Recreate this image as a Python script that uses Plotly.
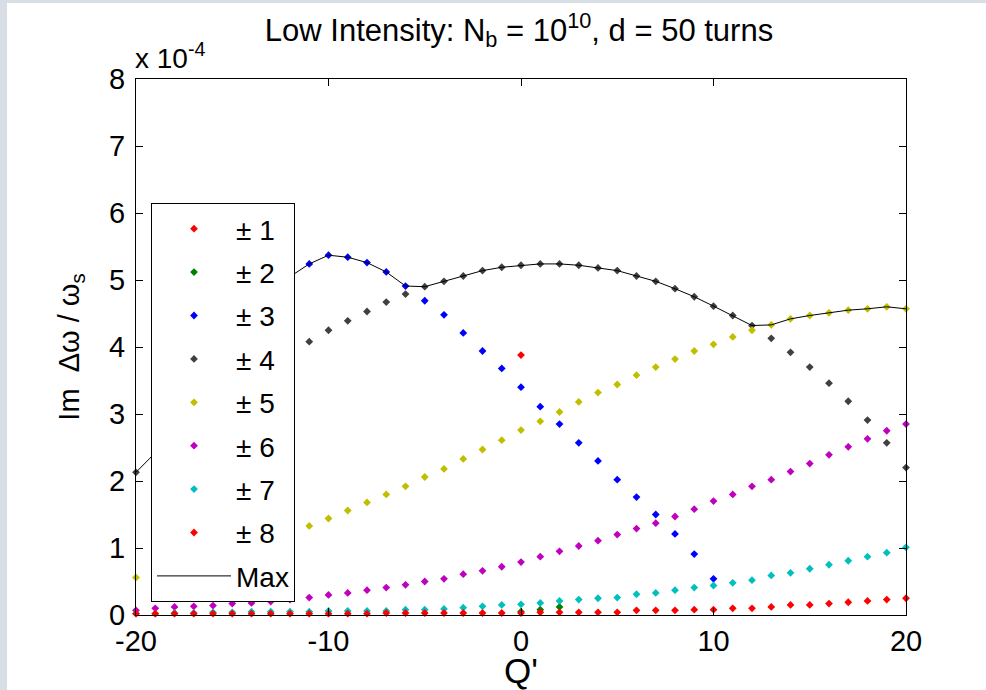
import plotly.graph_objects as go

Q = list(range(-20, 21))
N = None

# mode +-1 (only one significant point at Q'=0)
m1 = [N]*20 + [3.88] + [N]*20
# mode +-2 (only visible near Q'=0)
m2 = [N]*19 + [-0.02, 0.05, 0.08, 0.12, -0.02] + [N]*17
# mode +-3 (blue), defined from Q'=-19 up to Q'=10
m3 = [N, 2.20, 2.60, 3.00, 3.45, 3.90, 4.35, 4.75, 5.05, 5.24,
      5.37, 5.34, 5.26, 5.12, 4.91, 4.69, 4.48, 4.21, 3.94, 3.68,
      3.40, 3.11, 2.85, 2.57, 2.30, 2.02, 1.76, 1.50, 1.21, 0.91, 0.54]
# mode +-4 (dark grey)
m4 = [2.13, 2.42, 2.68, 2.92, 3.14, 3.35, 3.55, 3.73, 3.91, 4.08,
      4.25, 4.39, 4.53, 4.67, 4.79, 4.90, 4.98, 5.06, 5.14, 5.19,
      5.22, 5.24, 5.24, 5.22, 5.18, 5.14, 5.06, 4.98, 4.87, 4.75,
      4.61, 4.47, 4.32, 4.13, 3.92, 3.70, 3.46, 3.19, 2.91, 2.57, 2.20]
# mode +-5 (olive)
m5 = [0.56, 0.64, 0.72, 0.81, 0.90, 0.99, 1.08, 1.17, 1.25, 1.33,
      1.44, 1.56, 1.68, 1.80, 1.92, 2.06, 2.18, 2.33, 2.47, 2.61,
      2.76, 2.89, 3.03, 3.18, 3.32, 3.44, 3.58, 3.70, 3.82, 3.94,
      4.04, 4.15, 4.25, 4.33, 4.42, 4.47, 4.51, 4.55, 4.57, 4.60, 4.57]
# mode +-6 (magenta)
m6 = [0.07, 0.10, 0.12, 0.13, 0.14, 0.17, 0.18, 0.20, 0.23, 0.26,
      0.30, 0.33, 0.37, 0.41, 0.45, 0.50, 0.54, 0.61, 0.66, 0.72,
      0.79, 0.87, 0.95, 1.03, 1.11, 1.20, 1.29, 1.37, 1.47, 1.58,
      1.70, 1.80, 1.92, 2.02, 2.14, 2.26, 2.39, 2.51, 2.63, 2.75, 2.85]
# mode +-7 (cyan)
m7 = [0.02, 0.02, 0.03, 0.03, 0.04, 0.04, 0.05, 0.05, 0.05, 0.05,
      0.06, 0.06, 0.06, 0.06, 0.08, 0.08, 0.09, 0.11, 0.13, 0.15,
      0.16, 0.18, 0.21, 0.23, 0.25, 0.26, 0.31, 0.33, 0.37, 0.41,
      0.44, 0.48, 0.52, 0.59, 0.63, 0.69, 0.75, 0.81, 0.87, 0.93, 1.01]
# mode +-8 (red)
m8 = [0.02, 0.02, 0.02, 0.02, 0.02, 0.02, 0.02, 0.02, 0.02, 0.02,
      0.02, 0.02, 0.02, 0.03, 0.03, 0.03, 0.03, 0.03, 0.03, 0.03,
      0.03, 0.04, 0.04, 0.04, 0.04, 0.04, 0.07, 0.07, 0.07, 0.08,
      0.08, 0.10, 0.10, 0.12, 0.15, 0.15, 0.17, 0.19, 0.21, 0.23, 0.25]

series = [m1, m2, m3, m4, m5, m6, m7, m8]
names = ["± 1", "± 2", "± 3", "± 4", "± 5", "± 6", "± 7", "± 8"]
colors = ["#ff0000", "#008000", "#0000ff", "#404040",
          "#bfbf00", "#bf00bf", "#00bfbf", "#ff0000"]

# Max envelope across modes
mx = []
for i in range(len(Q)):
    vals = [s[i] for s in series if i < len(s) and s[i] is not None]
    mx.append(max(vals))

fig = go.Figure()
for k, (s, n, c) in enumerate(zip(series, names, colors)):
    fig.add_trace(go.Scatter(
        x=Q[:len(s)], y=[None if v is None else v * 1e-4 for v in s],
        mode="markers", name=n, legendgroup=f"g{k}",
        marker=dict(symbol="diamond", size=6, color=c),
        cliponaxis=False))
fig.add_trace(go.Scatter(
    x=Q, y=[v * 1e-4 for v in mx], mode="lines", name="Max",
    legendgroup="gmax", line=dict(color="black", width=1)))

FONT = "Liberation Sans, Arial, sans-serif"
W, H = 986, 690
L, R, T, B = 136, 80, 79, 75
pw, ph = W - L - R, H - T - B

def px_x(p):
    return (p - L) / pw

def px_y(p):
    return (H - B - p) / ph

strip = "#d7dee5"
shapes = [
    dict(type="rect", xref="paper", yref="paper", x0=px_x(0), x1=px_x(7),
         y0=px_y(H), y1=px_y(0), fillcolor=strip, line=dict(width=0), layer="below"),
    dict(type="rect", xref="paper", yref="paper", x0=px_x(0), x1=px_x(W),
         y0=px_y(3), y1=px_y(0), fillcolor=strip, line=dict(width=0), layer="below"),
]

fig.update_layout(
    width=W, height=H,
    margin=dict(l=L, r=R, t=T, b=B, autoexpand=False),
    paper_bgcolor="white", plot_bgcolor="white",
    font=dict(family=FONT, size=29, color="black"),
    title=dict(text="Low Intensity: N<sub>b</sub> = 10<sup>10</sup>, d = 50 turns",
               x=px_x(519), xref="paper", xanchor="center",
               y=1 - 30 / H, yref="container", yanchor="middle",
               font=dict(size=31)),
    showlegend=True,
    legend=dict(x=px_x(151), y=px_y(203), xanchor="left", yanchor="top",
                bgcolor="white", bordercolor="black", borderwidth=1,
                font=dict(size=28), itemwidth=74, tracegroupgap=4,
                traceorder="grouped"),
    shapes=shapes,
    annotations=[dict(text="x 10<sup>-4</sup>", xref="paper", yref="paper",
                      x=px_x(133), y=px_y(76), xanchor="left", yanchor="bottom",
                      showarrow=False, font=dict(size=28))],
    xaxis=dict(range=[-20, 20], tickvals=[-20, -10, 0, 10, 20],
               ticktext=["-20", "-10", "0", "10", "20"],
               ticks="inside", ticklen=7, tickcolor="black", mirror="ticks",
               showline=True, linecolor="black", linewidth=1, showgrid=False,
               zeroline=False, automargin=False,
               title=dict(text="Q'", standoff=2)),
    yaxis=dict(range=[0, 8e-4], tickvals=[i * 1e-4 for i in range(9)],
               ticktext=[str(i) for i in range(9)],
               ticks="inside", ticklen=7, tickcolor="black", mirror="ticks",
               showline=True, linecolor="black", linewidth=1, showgrid=False,
               zeroline=False, ticklabelstandoff=4, automargin=False,
               title=dict(text="Im  <span style='font-size:29px'>Δω / ω<sub>s</sub></span>",
                          standoff=20, font=dict(size=29))),
)

fig.write_html("out.html", config={"displayModeBar": False},
               post_script="document.body.style.margin='0px';")
